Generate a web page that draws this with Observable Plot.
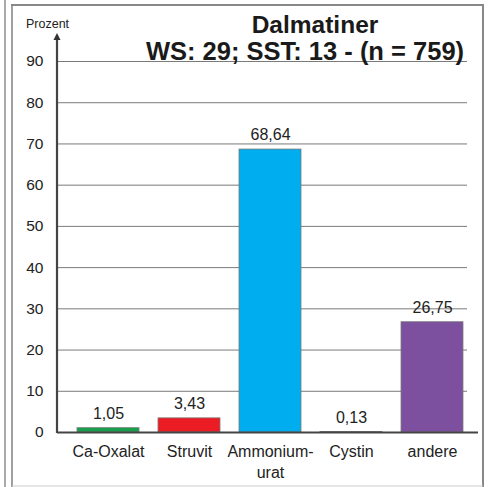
<!DOCTYPE html>
<html>
<head>
<meta charset="utf-8">
<script src="https://cdn.jsdelivr.net/npm/d3@7"></script>
<script src="https://cdn.jsdelivr.net/npm/@observablehq/plot@0.6"></script>
<style>
  html, body { margin: 0; padding: 0; background: #fff; }
  #chart { position: relative; width: 489px; height: 487px; }
</style>
</head>
<body>
<div id="chart"></div>
<script>
const categories = ["Ca-Oxalat", "Struvit", "Ammonium-urat", "Cystin", "andere"];
const tickLabels = ["Ca-Oxalat", "Struvit", "Ammonium-\nurat", "Cystin", "andere"];
const values = [1.05, 3.43, 68.64, 0.13, 26.75];
const barColors = ["#17a04b", "#ec1c24", "#00adef", "#9a9470", "#7c4f9f"];
const yTicks = [0, 10, 20, 30, 40, 50, 60, 70, 80, 90];
const title1 = "Dalmatiner";
const title2 = "WS: 29; SST: 13 - (n = 759)";
const yLabel = "Prozent";

const data = categories.map((c, i) => ({cat: c, value: values[i]}));
const fmt = v => v.toFixed(2).replace(".", ",");
const font = "'Liberation Sans', Arial, sans-serif";

const plot = Plot.plot({
  width: 489,
  height: 487,
  marginLeft: 57,
  marginRight: 22,
  marginTop: 61,
  marginBottom: 55,
  style: {fontFamily: font, fontSize: "15px", color: "#222", background: "transparent", overflow: "visible"},
  x: {domain: categories, range: [56.5, 483.5], padding: 0.24},
  y: {domain: [0, 90], range: [432, 61]},
  color: {domain: categories, range: barColors},
  marks: [
    Plot.ruleY(yTicks.filter(d => d > 0), {stroke: "#7a7a7a", strokeWidth: 1, strokeOpacity: 1}),
    Plot.barY(data, {x: "cat", y: "value", fill: "cat", stroke: "#7a7a7a", strokeWidth: 0.8}),
    Plot.text(data, {x: "cat", y: "value", text: d => fmt(d.value), dy: -14.5, fill: "#222", fontSize: 16}),
    Plot.ruleY([0], {stroke: "#444", strokeWidth: 2, insetRight: -11}),
    Plot.axisX({tickSize: 0, tickPadding: 10, fontSize: 16, lineHeight: 1.3, fill: "#222", label: null,
      tickFormat: d => tickLabels[categories.indexOf(d)]}),
    Plot.axisY({ticks: yTicks, tickSize: 0, tickPadding: 14, fontSize: 15.5, fill: "#222", label: null})
  ]
});

document.getElementById("chart").appendChild(plot);

const svg = d3.select(plot);
const y = plot.scale("y");
const y0 = y.apply(0), yTop = y.apply(90) - 28;

// y axis line with arrow
svg.append("line").attr("x1", 57).attr("x2", 57).attr("y1", y0 + 1).attr("y2", yTop + 5)
  .attr("stroke", "#444").attr("stroke-width", 2.2);
svg.append("path").attr("d", `M57,${yTop} L53.5,${yTop + 7} L60.5,${yTop + 7} Z`).attr("fill", "#333");

// axis title
svg.append("text").attr("x", 26).attr("y", 28).attr("text-anchor", "start").attr("font-size", 12.5)
  .attr("fill", "#222").attr("font-family", font).text(yLabel);

// chart titles
svg.append("text").attr("x", 315).attr("y", 33).attr("text-anchor", "middle").attr("font-size", 24.5)
  .attr("font-weight", "bold").attr("fill", "#1a1a1a").attr("font-family", font).text(title1);
svg.append("text").attr("x", 305).attr("y", 60).attr("text-anchor", "middle").attr("font-size", 25.5)
  .attr("font-weight", "bold").attr("fill", "#1a1a1a").attr("font-family", font).text(title2);

// panel borders
const border = svg.append("g").attr("fill", "none");
border.append("line").attr("x1", 5).attr("x2", 5).attr("y1", 0).attr("y2", 487).attr("stroke", "#aaa").attr("stroke-width", 2);
border.append("line").attr("x1", 12).attr("x2", 12).attr("y1", 4).attr("y2", 487).attr("stroke", "#888").attr("stroke-width", 1.6);
border.append("line").attr("x1", 11).attr("x2", 484).attr("y1", 5).attr("y2", 5).attr("stroke", "#888").attr("stroke-width", 2);
border.append("line").attr("x1", 483).attr("x2", 483).attr("y1", 4).attr("y2", 487).attr("stroke", "#888").attr("stroke-width", 2);
border.append("line").attr("x1", 12).attr("x2", 483).attr("y1", 486).attr("y2", 486).attr("stroke", "#ccc").attr("stroke-width", 1);
</script>
</body>
</html>
